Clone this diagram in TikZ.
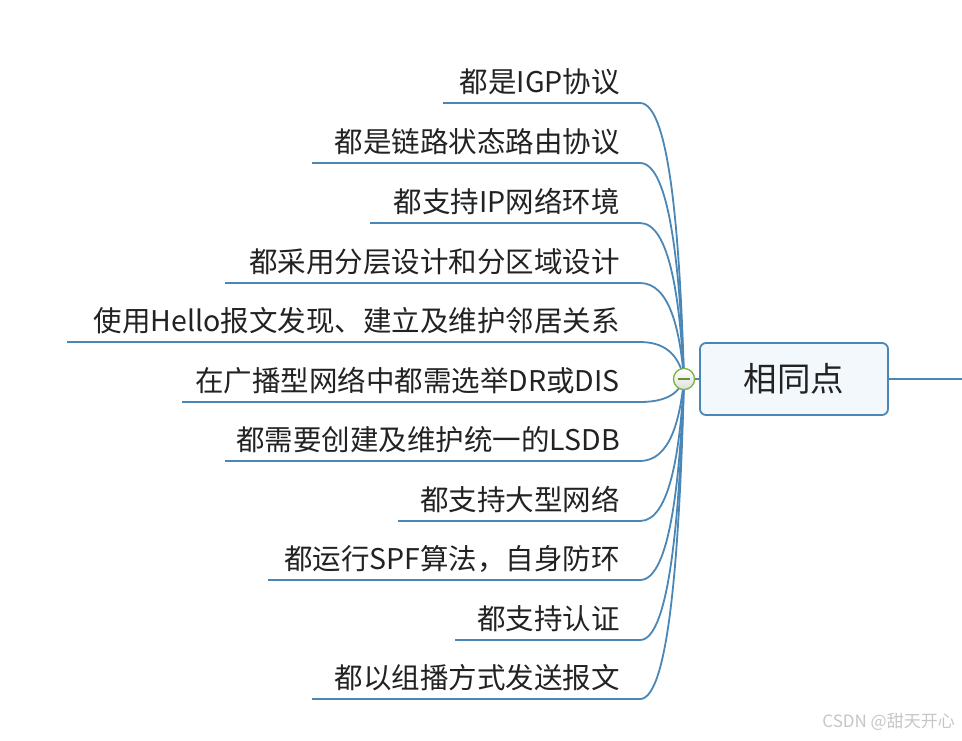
\documentclass[tikz,border=0pt]{standalone}
\usepackage{fontspec}
\setmainfont{Noto Sans CJK SC}
\usetikzlibrary{calc}
\definecolor{linkblue}{HTML}{4A86B6}
\definecolor{boxfill}{HTML}{F3F8FD}
\definecolor{hubgreen}{HTML}{7DB53F}
\definecolor{txt}{HTML}{222222}
\tikzset{
  conn/.style={draw=linkblue, line width=1.8pt},
  branchtext/.style={inner sep=0pt, text=txt, font=\fontsize{28.5}{32}\selectfont},
  topicbox/.style={draw=linkblue, line width=1.8pt, fill=boxfill, rounded corners=6pt,
    minimum width=188pt, minimum height=72pt, text=txt, font=\fontsize{33.5}{38}\selectfont},
  hubcircle/.style={circle, draw=hubgreen, line width=1.2pt, inner sep=0pt, minimum size=21pt,
    top color=white, bottom color=gray!25},
  wmark/.style={inner sep=0pt, text=gray!45, font=\fontsize{17}{20}\selectfont}
}
\begin{document}
\begin{tikzpicture}[x=1pt,y=-1pt]
\useasboundingbox (0,0) rectangle (962,740);
\node[hubcircle] (hub) at (684,379) {};
\node[topicbox] (topic) at (794,379) {相同点};
\coordinate (rightend) at (962,379);
\foreach \i/\y/\xs/\txt in {
  1/103/443/都是IGP协议,
  2/163/312/都是链路状态路由协议,
  3/223/370/都支持IP网络环境,
  4/283/225/都采用分层设计和分区域设计,
  5/342/67/使用Hello报文发现、建立及维护邻居关系,
  6/402/182/在广播型网络中都需选举DR或DIS,
  7/461/225/都需要创建及维护统一的LSDB,
  8/521/398/都支持大型网络,
  9/580/268/都运行SPF算法，自身防环,
  10/640/455/都支持认证,
  11/699/312/都以组播方式发送报文}{
  \pgfmathsetmacro{\cy}{\y+0.5*(379-\y)}
  \pgfmathsetmacro{\ty}{\y-11}
  \node[branchtext, anchor=base east] (t\i) at (620,\ty) {\txt};
  \coordinate (s\i) at (\xs,\y);
  \coordinate (e\i) at (640,\y);
  \draw[conn] (s\i) -- (e\i) .. controls (670,\y) and (680,\cy) .. (hub.center);
}
\draw[conn] (hub.east) -- (topic.west);
\draw[conn] (topic.east) -- (rightend);
\node[hubcircle] (hubtop) at (hub.center) {};
\draw[hubgreen!80!black, line width=1.2pt] ($(hubtop.center)+(-6,0)$) -- ($(hubtop.center)+(6,0)$);
\node[wmark, anchor=east] (wm) at (955,722) {CSDN @甜天开心};
\end{tikzpicture}
\end{document}
